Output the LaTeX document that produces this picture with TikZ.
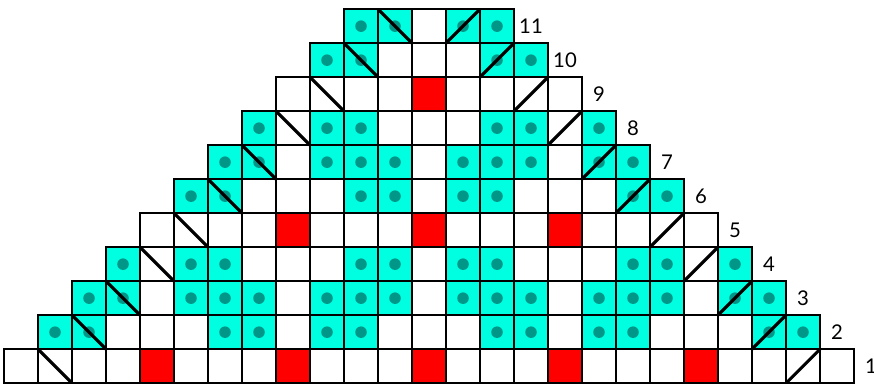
\documentclass[tikz,border=0pt]{standalone}
\usepackage{fontspec}
\setmainfont{Lato}
\definecolor{celeste}{RGB}{0,255,224}
\definecolor{punto}{RGB}{0,150,136}
\begin{document}
\begin{tikzpicture}[
    celda/.style={draw=black, line width=1.6pt},
    diagonal/.style={line width=2.6pt},
    etiqueta/.style={font=\fontsize{17}{20}\selectfont}]
    \useasboundingbox (-0.118,0) rectangle (25.588,11.27);
    % Las filas se cuentan de abajo (1) hacia arriba (11); la columna j ocupa [j,j+1].
    \foreach \r/\cols in {2/{1,2,6,7,9,10,14,15,17,18,22,23},
        3/{2,3,5,6,7,9,10,11,13,14,15,17,18,19,21,22},
        4/{3,5,6,10,11,13,14,18,19,21},
        6/{5,6,10,11,13,14,18,19},
        7/{6,7,9,10,11,13,14,15,17,18},
        8/{7,9,10,14,15,17},
        10/{9,10,14,15},
        11/{10,11,13,14}}
        \foreach \j in \cols {
            \fill[celeste] (\j,\r-1) rectangle +(1,1);
            \fill[punto] (\j+0.5,\r-0.5) circle (0.17);
        }
    \foreach \j/\r in {4/1,8/1,12/1,16/1,20/1,8/5,12/5,16/5,12/9}
        \fill[red] (\j,\r-1) rectangle +(1,1);
    \foreach \r [evaluate=\r as \a using int(\r-1),
                 evaluate=\r as \b using int(25-\r)] in {1,...,11}
        \foreach \j in {\a,...,\b}
            \draw[celda] (\j,\a) rectangle +(1,1);
    \foreach \r in {1,...,11} {
        \draw[diagonal] (\r,\r) -- (\r+1,\r-1);
        \draw[diagonal] (24-\r,\r-1) -- (25-\r,\r);
        \node[etiqueta] (n\r) at (26.5-\r,\r-0.5) {\r};
    }
\end{tikzpicture}
\end{document}
